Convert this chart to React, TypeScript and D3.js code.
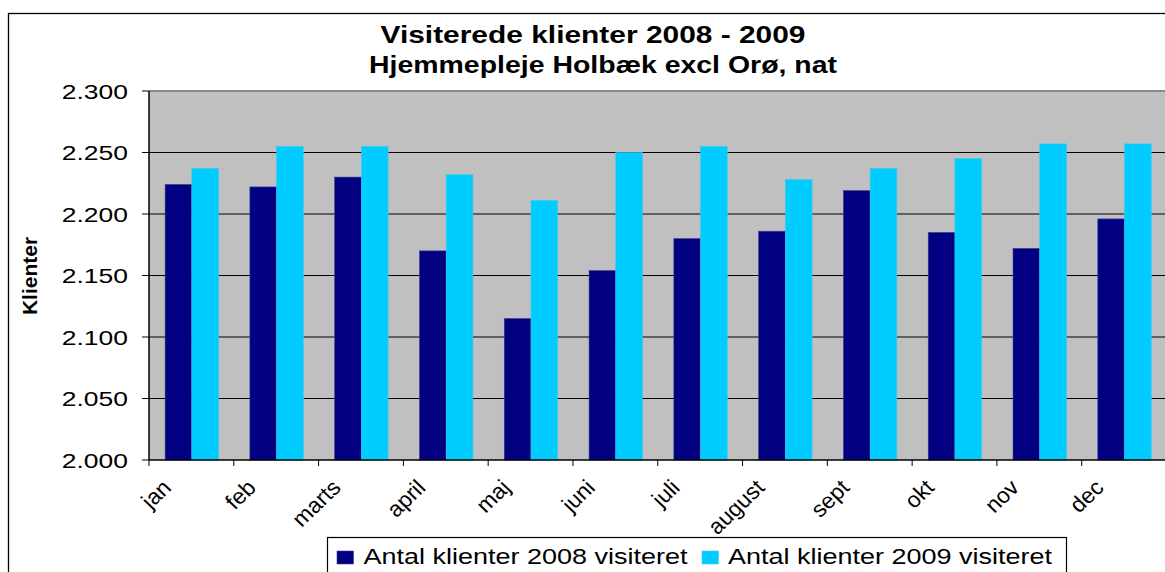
import React from "react";
import * as d3 from "d3";

const months = ["jan", "feb", "marts", "april", "maj", "juni", "juli", "august", "sept", "okt", "nov", "dec"];
const series = ["Antal klienter 2008 visiteret", "Antal klienter 2009 visiteret"];
const values2008 = [2224, 2222, 2230, 2170, 2115, 2154, 2180, 2186, 2219, 2185, 2172, 2196];
const values2009 = [2237, 2255, 2255, 2232, 2211, 2250, 2255, 2228, 2237, 2245, 2257, 2257];
const yTicks = [2000, 2050, 2100, 2150, 2200, 2250, 2300];
const titleLines = ["Visiterede klienter 2008 - 2009", "Hjemmepleje Holbæk excl Orø, nat"];
const yTitle = "Klienter";
const colors = ["#000080", "#00CCFF"];

const W = 1165;
const H = 572;
const plot = { left: 149, right: 1166.5, top: 91, bottom: 460 };
const SX = 1.26;
const FONT = "Arial, 'Liberation Sans', Helvetica, sans-serif";

const fmt = (v: number) => d3.format(",.3f")(v / 1000).replace(",", "");

export default function App() {
  const x = d3.scaleBand<string>().domain(months).range([plot.left, plot.right]).padding(0);
  const bw = x.bandwidth();
  const inner = d3
    .scaleBand<number>()
    .domain([0, 1])
    .range([bw * 0.19, bw * 0.82])
    .padding(0);
  const y = d3.scaleLinear().domain([2000, 2300]).range([plot.bottom, plot.top]);
  const data = [values2008, values2009];

  return (
    <svg
      width={W}
      height={H}
      style={{ position: "absolute", left: 0, top: 0, background: "#fff", fontFamily: FONT }}
    >
      {/* outer chart border */}
      <rect x={8.5} y={13.5} width={W + 20} height={H + 20} fill="#fff" stroke="#000" strokeWidth={1.3} />

      {/* title */}
      <text x={593} y={43} textAnchor="middle" fontSize={23.3} fontWeight="bold" textLength={425} lengthAdjust="spacingAndGlyphs">
        {titleLines[0]}
      </text>
      <text x={603} y={73} textAnchor="middle" fontSize={23.3} fontWeight="bold" textLength={468} lengthAdjust="spacingAndGlyphs">
        {titleLines[1]}
      </text>

      {/* plot area */}
      <rect x={plot.left} y={plot.top} width={plot.right - plot.left} height={plot.bottom - plot.top} fill="#C0C0C0" />

      {/* gridlines */}
      {yTicks.slice(1, -1).map((t) => (
        <line key={"g" + t} x1={plot.left} x2={plot.right} y1={y(t)} y2={y(t)} stroke="#000" strokeWidth={1} />
      ))}
      <line x1={plot.left} x2={plot.right} y1={plot.top} y2={plot.top} stroke="#8a8a8a" strokeWidth={2} />

      {/* bars */}
      {data.map((vals, si) =>
        vals.map((v, i) => {
          const bx = (x(months[i]) as number) + (inner(si) as number);
          return (
            <rect
              key={si + "-" + i}
              x={bx}
              y={y(v)}
              width={inner.bandwidth()}
              height={y(2000) - y(v)}
              fill={colors[si]}
              stroke={si === 0 ? "#3a3a90" : "#40c8f0"}
              strokeWidth={0.6}
            />
          );
        })
      )}

      {/* y axis */}
      <line x1={plot.left} x2={plot.left} y1={plot.top} y2={plot.bottom} stroke="#000" strokeWidth={1.5} />
      {yTicks.map((t) => (
        <g key={"yt" + t}>
          <line x1={plot.left - 7} x2={plot.left} y1={y(t)} y2={y(t)} stroke="#000" strokeWidth={1} />
          <text transform={`translate(128,${y(t) + 7.5}) scale(${SX},1)`} textAnchor="end" fontSize={21} fill="#000">
            {fmt(t)}
          </text>
        </g>
      ))}

      {/* x axis */}
      <line x1={plot.left} x2={plot.right} y1={plot.bottom} y2={plot.bottom} stroke="#000" strokeWidth={1.5} />
      {months.map((m) => (
        <line key={"xt" + m} x1={x(m) as number} x2={x(m) as number} y1={plot.bottom} y2={plot.bottom + 6} stroke="#000" strokeWidth={1} />
      ))}
      {months.map((m) => {
        const cx = (x(m) as number) + bw / 2 - 19;
        return (
          <text
            key={"xl" + m}
            transform={`translate(${cx},489) scale(1.04,1) rotate(-45)`}
            textAnchor="end"
            fontSize={22}
            fill="#000"
          >
            {m}
          </text>
        );
      })}

      {/* y axis title */}
      <text transform="translate(36.5,276) rotate(-90)" textAnchor="middle" fontSize={21} fontWeight="bold">
        {yTitle}
      </text>

      {/* legend */}
      <rect x={327.5} y={537.5} width={739} height={60} fill="#fff" stroke="#000" strokeWidth={1.2} />
      {series.map((s, i) => {
        const sx = i === 0 ? 337 : 702;
        const tx = i === 0 ? 363.5 : 728;
        return (
          <g key={"lg" + i}>
            <rect x={sx} y={551} width={16.5} height={13} fill={colors[i]} stroke={i === 0 ? "#3a3a90" : "#40c8f0"} strokeWidth={0.6} />
            <text x={tx} y={563.5} fontSize={21.5} textLength={324} lengthAdjust="spacingAndGlyphs">
              {s}
            </text>
          </g>
        );
      })}
    </svg>
  );
}
